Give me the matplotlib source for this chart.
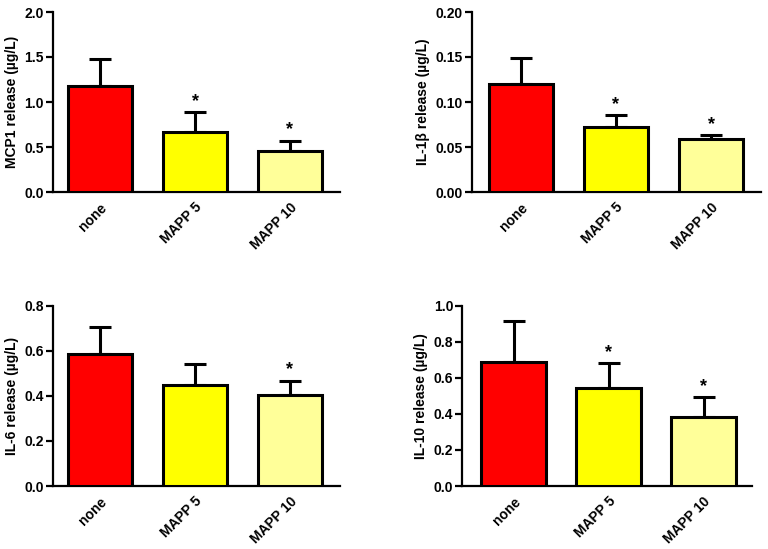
import matplotlib
matplotlib.use("Agg")
import matplotlib.pyplot as plt

plt.rcParams['font.family'] = ['Liberation Sans', 'DejaVu Sans']
plt.rcParams['font.weight'] = 'bold'

categories = ["none", "MAPP 5", "MAPP 10"]
colors = ["#FF0000", "#FFFF00", "#FFFF99"]

mcp1_mean = [1.18, 0.67, 0.455]
mcp1_err = [0.30, 0.22, 0.115]
mcp1_sig = [False, True, True]

il1b_mean = [0.120, 0.0725, 0.0585]
il1b_err = [0.0285, 0.013, 0.0045]
il1b_sig = [False, True, True]

il6_mean = [0.585, 0.450, 0.404]
il6_err = [0.122, 0.090, 0.064]
il6_sig = [False, False, True]

il10_mean = [0.687, 0.544, 0.385]
il10_err = [0.230, 0.139, 0.108]
il10_sig = [False, True, True]

panels = [
    (mcp1_mean, mcp1_err, mcp1_sig, "MCP1 release (\u00b5g/L)", 2.0, [0.0, 0.5, 1.0, 1.5, 2.0], "{:.1f}"),
    (il1b_mean, il1b_err, il1b_sig, "IL-1\u03b2 release (\u00b5g/L)", 0.20, [0.0, 0.05, 0.10, 0.15, 0.20], "{:.2f}"),
    (il6_mean, il6_err, il6_sig, "IL-6 release (\u00b5g/L)", 0.8, [0.0, 0.2, 0.4, 0.6, 0.8], "{:.1f}"),
    (il10_mean, il10_err, il10_sig, "IL-10 release (\u00b5g/L)", 1.0, [0.0, 0.2, 0.4, 0.6, 0.8, 1.0], "{:.1f}"),
]

W, H = 768, 549
fig = plt.figure(figsize=(W / 100, H / 100), dpi=100)

# (left px, right px, bottom px from top, top px from top, first bar center px)
rects = [
    (53, 340, 192, 12, 100),
    (471.7, 760.7, 192, 12, 521),
    (53, 340, 486, 305.7, 100),
    (462.3, 752, 486, 305.7, 513.5),
]
step = 95.0

for (mean, err, sig, ylabel, ymax, ticks, fmt), (lx, rx, by, ty, c0) in zip(panels, rects):
    ax = fig.add_axes([lx / W, (H - by) / H, (rx - lx) / W, (by - ty) / H])
    x = list(range(len(categories)))
    ax.bar(x, mean, width=0.68, color=colors, edgecolor="black", linewidth=2.2, zorder=3)
    ax.errorbar(x, mean, yerr=[[0] * len(mean), err], fmt="none", ecolor="black",
                elinewidth=2.2, capsize=8, capthick=2.2, zorder=2)
    for xi, m, e, s in zip(x, mean, err, sig):
        if s:
            ax.text(xi, m + e + ymax * 0.012, "*", ha="center", va="bottom",
                    fontsize=13, fontweight="bold")
    ax.set_xlim(-(c0 - lx) / step, 2 + (rx - c0 - 2 * step) / step)
    ax.set_ylim(0, ymax)
    ax.set_yticks(ticks)
    ax.set_yticklabels([fmt.format(t) for t in ticks], fontsize=10, fontweight="bold")
    ax.set_xticks(x)
    ax.set_xticklabels(categories, rotation=45, ha="right", rotation_mode="anchor",
                       fontsize=10, fontweight="bold")
    ax.tick_params(axis="x", length=0, pad=6)
    ax.tick_params(axis="y", length=5, width=1.6, direction="out", pad=1.5)
    ax.set_ylabel(ylabel, fontsize=10, fontweight="bold", labelpad=4)
    for sp in ["top", "right"]:
        ax.spines[sp].set_visible(False)
    for sp in ["left", "bottom"]:
        ax.spines[sp].set_linewidth(1.6)

fig.savefig("out.png", dpi=100)
